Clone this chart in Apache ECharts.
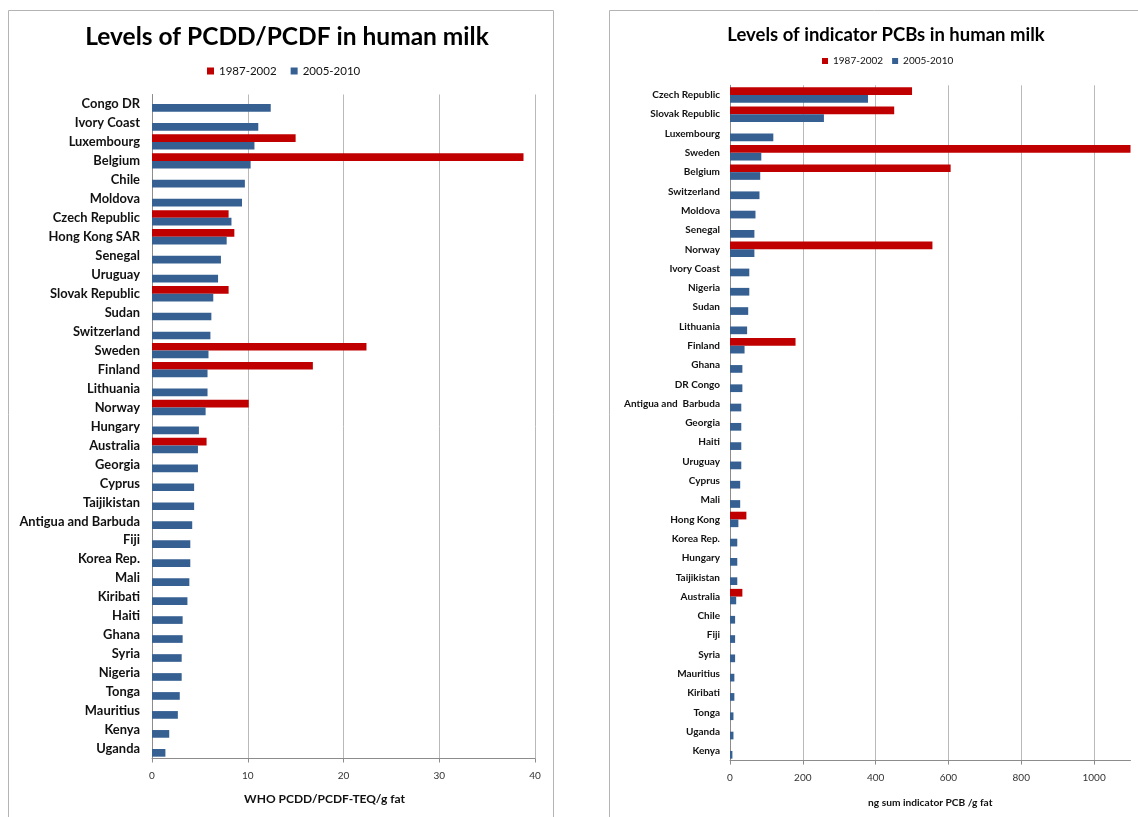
<!DOCTYPE html>
<html>
<head>
<meta charset="utf-8">
<title>Levels of PCDD/PCDF and indicator PCBs in human milk</title>
<script src="https://cdn.jsdelivr.net/npm/echarts@6/dist/echarts.min.js"></script>
<style>
  html, body { margin: 0; padding: 0; background: #fff; }
  #chart { width: 1138px; height: 817px; }
</style>
</head>
<body>
<div id="chart"></div>
<script>
// ---- PCDD/PCDF (WHO-TEQ pg/g fat) ----
const pcddCountries = [
  'Congo DR', 'Ivory Coast', 'Luxembourg', 'Belgium', 'Chile', 'Moldova',
  'Czech Republic', 'Hong Kong SAR', 'Senegal', 'Uruguay', 'Slovak Republic',
  'Sudan', 'Switzerland', 'Sweden', 'Finland', 'Lithuania', 'Norway', 'Hungary',
  'Australia', 'Georgia', 'Cyprus', 'Taijikistan', 'Antigua and Barbuda', 'Fiji',
  'Korea Rep.', 'Mali', 'Kiribati', 'Haiti', 'Ghana', 'Syria', 'Nigeria', 'Tonga',
  'Mauritius', 'Kenya', 'Uganda'
];
const pcddEarly = [
  null, null, 15.0, 38.8, null, null,
  8.0, 8.6, null, null, 8.0,
  null, null, 22.4, 16.8, null, 10.1, null,
  5.7, null, null, null, null, null,
  null, null, null, null, null, null, null, null,
  null, null, null
];
const pcddRecent = [
  12.4, 11.1, 10.7, 10.3, 9.7, 9.4,
  8.3, 7.8, 7.2, 6.9, 6.4,
  6.2, 6.1, 5.9, 5.8, 5.8, 5.6, 4.9,
  4.8, 4.8, 4.4, 4.4, 4.2, 4.0,
  4.0, 3.9, 3.7, 3.2, 3.2, 3.1, 3.1, 2.9,
  2.7, 1.8, 1.4
];
const pcddTicks = { min: 0, max: 40, interval: 10 };

// ---- Indicator PCBs (ng/g fat) ----
const pcbCountries = [
  'Czech Republic', 'Slovak Republic', 'Luxembourg', 'Sweden', 'Belgium',
  'Switzerland', 'Moldova', 'Senegal', 'Norway', 'Ivory Coast', 'Nigeria',
  'Sudan', 'Lithuania', 'Finland', 'Ghana', 'DR Congo', 'Antigua and  Barbuda',
  'Georgia', 'Haiti', 'Uruguay', 'Cyprus', 'Mali', 'Hong Kong', 'Korea Rep.',
  'Hungary', 'Taijikistan', 'Australia', 'Chile', 'Fiji', 'Syria', 'Mauritius',
  'Kiribati', 'Tonga', 'Uganda', 'Kenya'
];
const pcbEarly = [
  500, 451, null, 1100, 606,
  null, null, null, 556, null, null,
  null, null, 180, null, null, null,
  null, null, null, null, null, 45, null,
  null, null, 34, null, null, null, null,
  null, null, null, null
];
const pcbRecent = [
  379, 258, 119, 86, 83,
  81, 70, 67, 67, 53, 53,
  50, 47, 40, 34, 34, 31,
  31, 31, 31, 28, 28, 23, 20,
  20, 20, 17, 14, 14, 14, 12,
  12, 9.5, 9.5, 6.6
];
const pcbTicks = { min: 0, max: 1100, interval: 200 };

const seriesNames = ['1987-2002', '2005-2010'];
const RED = '#c00000';
const BLUE = '#376092';
const FONT = 'Lato, "Open Sans", sans-serif';
const GRID_COLOR = '#b9b9b9';
const AXIS_COLOR = '#8c8c8c';

const chart = echarts.init(document.getElementById('chart'), null, { renderer: 'canvas' });

function valueAxis(gridIndex, ticks, name, nameSize, namePad, nameGap, showMax) {
  return {
    type: 'value', gridIndex,
    min: ticks.min, max: ticks.max, interval: ticks.interval,
    axisLine: { show: true, lineStyle: { color: AXIS_COLOR } },
    axisTick: { show: true, length: 4, lineStyle: { color: AXIS_COLOR } },
    axisLabel: { fontFamily: FONT, fontSize: 10, color: '#333', margin: 12, showMaxLabel: showMax,
      formatter: v => String(v) },
    splitLine: { show: true, showMaxLine: showMax, lineStyle: { color: GRID_COLOR, width: 1 } },
    name, nameLocation: 'middle', nameGap,
    nameTextStyle: { fontFamily: FONT, fontSize: nameSize, fontWeight: 'bold', color: '#111', padding: namePad }
  };
}

function categoryAxis(gridIndex, cats, fontSize, margin) {
  return {
    type: 'category', gridIndex, data: cats, inverse: true,
    axisLine: { show: true, lineStyle: { color: AXIS_COLOR } },
    axisTick: { show: false },
    axisLabel: { fontFamily: FONT, fontSize, fontWeight: 'bold', color: '#111', margin, interval: 0 }
  };
}

function barSeries(name, data, color, axisIndex, gap) {
  return {
    type: 'bar', name, data,
    xAxisIndex: axisIndex, yAxisIndex: axisIndex,
    itemStyle: { color },
    barGap: '0%', barCategoryGap: gap,
    animation: false
  };
}

chart.setOption({
  animation: false,
  backgroundColor: '#fff',
  title: [
    { text: 'Levels of PCDD/PCDF in human milk', left: 282, top: 20, textAlign: 'center',
      textStyle: { fontFamily: FONT, fontSize: 24.5, fontWeight: 'bold', color: '#000' } },
    { text: 'Levels of indicator PCBs in human milk', left: 881, top: 21, textAlign: 'center',
      textStyle: { fontFamily: FONT, fontSize: 18.5, fontWeight: 'bold', color: '#000' } }
  ],
  legend: [
    { data: seriesNames, left: 207, top: 65, padding: 0, icon: 'rect', itemWidth: 7, itemHeight: 7, itemGap: 14,
      textStyle: { fontFamily: FONT, fontSize: 11.5, color: '#111' }, selectedMode: false },
    { data: seriesNames, left: 822, top: 56, padding: 0, icon: 'rect', itemWidth: 6, itemHeight: 6, itemGap: 9,
      textStyle: { fontFamily: FONT, fontSize: 10, color: '#111' }, selectedMode: false }
  ],
  grid: [
    { left: 152, right: 603, top: 94.5, bottom: 58.5, containLabel: false },
    { left: 730, right: 7.5, top: 85.3, bottom: 56.4, containLabel: false }
  ],
  xAxis: [
    valueAxis(0, pcddTicks, 'WHO PCDD/PCDF-TEQ/g fat', 12, [0, 38, 0, 0], 35, true),
    valueAxis(1, pcbTicks, 'ng sum indicator PCB /g fat', 10.2, [0, 0, 0, 0], 37, false)
  ],
  yAxis: [
    categoryAxis(0, pcddCountries, 12.9, 12),
    categoryAxis(1, pcbCountries, 10, 10)
  ],
  series: [
    barSeries(seriesNames[0], pcddEarly, RED, 0, '19%'),
    barSeries(seriesNames[1], pcddRecent, BLUE, 0, '19%'),
    barSeries(seriesNames[0], pcbEarly, RED, 1, '20%'),
    barSeries(seriesNames[1], pcbRecent, BLUE, 1, '20%')
  ],
  graphic: [
    { type: 'rect', shape: { x: 8.5, y: 10.5, width: 545, height: 830 }, silent: true, z: -10,
      style: { fill: 'none', stroke: '#b4b4b4', lineWidth: 1 } },
    { type: 'rect', shape: { x: 609.5, y: 10.5, width: 560, height: 830 }, silent: true, z: -10,
      style: { fill: 'none', stroke: '#b4b4b4', lineWidth: 1 } }
  ]
});
</script>
</body>
</html>
